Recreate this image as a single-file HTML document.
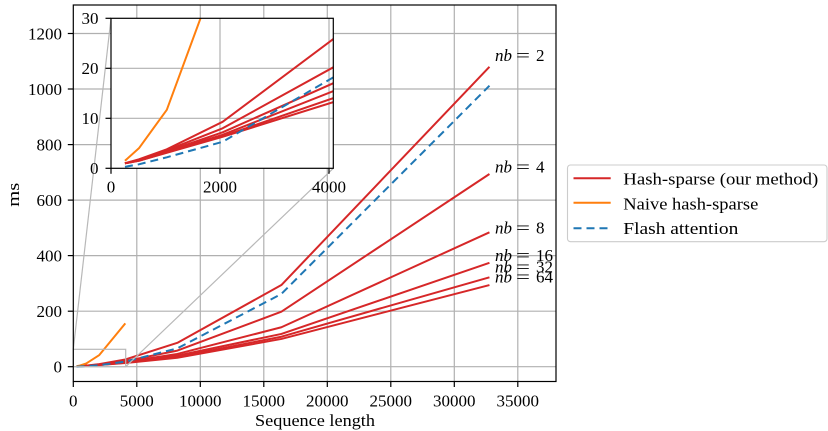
<!DOCTYPE html>
<html><head><meta charset="utf-8"><style>
html,body{margin:0;padding:0;background:#fff;}
svg{display:block;}
text{font-family:"Liberation Serif","DejaVu Serif",serif;font-size:17px;fill:#000;}
</style></head><body>
<svg width="828" height="431" viewBox="0 0 828 431" xmlns="http://www.w3.org/2000/svg">
<defs>
<clipPath id="cm"><rect x="73.3" y="5" width="482.7" height="376.5"/></clipPath>
<clipPath id="ci"><rect x="111" y="18.3" width="222.3" height="150"/></clipPath>
</defs>
<rect x="0" y="0" width="828" height="431" fill="#fff"/>
<!-- main grid -->
<g stroke="#b0b0b0" stroke-width="1.2">
<line x1="136.8" y1="5" x2="136.8" y2="381.5"/>
<line x1="200.3" y1="5" x2="200.3" y2="381.5"/>
<line x1="263.8" y1="5" x2="263.8" y2="381.5"/>
<line x1="327.3" y1="5" x2="327.3" y2="381.5"/>
<line x1="390.8" y1="5" x2="390.8" y2="381.5"/>
<line x1="454.3" y1="5" x2="454.3" y2="381.5"/>
<line x1="517.8" y1="5" x2="517.8" y2="381.5"/>
<line x1="73.3" y1="366.7" x2="556" y2="366.7"/>
<line x1="73.3" y1="311.2" x2="556" y2="311.2"/>
<line x1="73.3" y1="255.6" x2="556" y2="255.6"/>
<line x1="73.3" y1="200.1" x2="556" y2="200.1"/>
<line x1="73.3" y1="144.6" x2="556" y2="144.6"/>
<line x1="73.3" y1="89.0" x2="556" y2="89.0"/>
<line x1="73.3" y1="33.5" x2="556" y2="33.5"/>
</g>
<!-- main series -->
<g clip-path="url(#cm)" fill="none" stroke-width="2" stroke-linejoin="round">
<polyline stroke="#d62728" points="76.55,366.42 79.80,366.20 86.30,365.64 99.31,364.12 125.32,359.48 177.34,342.82 281.38,285.06 489.45,66.82"/>
<polyline stroke="#d62728" points="76.55,366.42 79.80,366.23 86.30,365.70 99.31,364.48 125.32,361.06 177.34,350.60 281.38,311.72 489.45,174.00"/>
<polyline stroke="#d62728" points="76.55,366.42 79.80,366.26 86.30,365.76 99.31,364.70 125.32,361.95 177.34,353.93 281.38,327.27 489.45,232.31"/>
<polyline stroke="#d62728" points="76.55,366.42 79.80,366.26 86.30,365.78 99.31,364.84 125.32,362.40 177.34,355.59 281.38,333.93 489.45,262.85"/>
<polyline stroke="#d62728" points="76.55,366.42 79.80,366.28 86.30,365.81 99.31,364.92 125.32,362.78 177.34,356.98 281.38,336.71 489.45,277.29"/>
<polyline stroke="#d62728" points="76.55,366.42 79.80,366.28 86.30,365.84 99.31,364.95 125.32,363.01 177.34,357.81 281.38,338.93 489.45,285.06"/>
<polyline stroke="#ff7f0e" points="76.55,366.28 79.80,365.59 86.30,363.45 99.31,355.04 125.32,323.38"/>
<polyline stroke="#1f77b4" stroke-dasharray="8,5" points="76.55,366.62 79.80,366.48 86.30,366.09 99.31,365.23 125.32,361.62 177.34,348.37 281.38,293.95 489.45,85.70"/>
</g>
<!-- inset indicator -->
<g stroke="#b8b8b8" stroke-width="1.2" fill="none">
<rect x="73.3" y="349.3" width="52.4" height="17.4"/>
<line x1="73.3" y1="349.3" x2="111" y2="18.3"/>
<line x1="125.7" y1="366.7" x2="333.3" y2="168.3"/>
</g>
<!-- main spines -->
<rect x="73.3" y="5" width="482.7" height="376.5" fill="none" stroke="#000" stroke-width="1.2"/>
<!-- main ticks -->
<g stroke="#000" stroke-width="1.2">
<line x1="73.3" y1="381.5" x2="73.3" y2="387"/>
<line x1="136.8" y1="381.5" x2="136.8" y2="387"/>
<line x1="200.3" y1="381.5" x2="200.3" y2="387"/>
<line x1="263.8" y1="381.5" x2="263.8" y2="387"/>
<line x1="327.3" y1="381.5" x2="327.3" y2="387"/>
<line x1="390.8" y1="381.5" x2="390.8" y2="387"/>
<line x1="454.3" y1="381.5" x2="454.3" y2="387"/>
<line x1="517.8" y1="381.5" x2="517.8" y2="387"/>
<line x1="67.8" y1="366.7" x2="73.3" y2="366.7"/>
<line x1="67.8" y1="311.2" x2="73.3" y2="311.2"/>
<line x1="67.8" y1="255.6" x2="73.3" y2="255.6"/>
<line x1="67.8" y1="200.1" x2="73.3" y2="200.1"/>
<line x1="67.8" y1="144.6" x2="73.3" y2="144.6"/>
<line x1="67.8" y1="89.0" x2="73.3" y2="89.0"/>
<line x1="67.8" y1="33.5" x2="73.3" y2="33.5"/>
</g>
<g text-anchor="middle">
<text x="73.3" y="406.5">0</text>
<text x="136.8" y="406.5">5000</text>
<text x="200.3" y="406.5">10000</text>
<text x="263.8" y="406.5">15000</text>
<text x="327.3" y="406.5">20000</text>
<text x="390.8" y="406.5">25000</text>
<text x="454.3" y="406.5">30000</text>
<text x="517.8" y="406.5">35000</text>
</g>
<g text-anchor="end">
<text x="62" y="372.5">0</text>
<text x="62" y="317">200</text>
<text x="62" y="261.4">400</text>
<text x="62" y="205.9">600</text>
<text x="62" y="150.4">800</text>
<text x="62" y="94.8">1000</text>
<text x="62" y="39.3">1200</text>
</g>
<text x="255" y="426" textLength="120" lengthAdjust="spacingAndGlyphs">Sequence length</text>
<text transform="translate(19,194.7) rotate(-90)" text-anchor="middle" textLength="24" lengthAdjust="spacingAndGlyphs">ms</text>
<!-- nb labels -->
<g fill="#000">
<text x="495" y="61" font-style="italic">nb</text><text x="516" y="61" textLength="14" lengthAdjust="spacingAndGlyphs">=</text><text x="536" y="61">2</text>
<text x="495" y="172.5" font-style="italic">nb</text><text x="516" y="172.5" textLength="14" lengthAdjust="spacingAndGlyphs">=</text><text x="536" y="172.5">4</text>
<text x="495" y="233.3" font-style="italic">nb</text><text x="516" y="233.3" textLength="14" lengthAdjust="spacingAndGlyphs">=</text><text x="536" y="233.3">8</text>
<text x="495" y="261" font-style="italic">nb</text><text x="516" y="261" textLength="14" lengthAdjust="spacingAndGlyphs">=</text><text x="536" y="261">16</text>
<text x="495" y="272.3" font-style="italic">nb</text><text x="516" y="272.3" textLength="14" lengthAdjust="spacingAndGlyphs">=</text><text x="536" y="272.3">32</text>
<text x="495" y="282.3" font-style="italic">nb</text><text x="516" y="282.3" textLength="14" lengthAdjust="spacingAndGlyphs">=</text><text x="536" y="282.3">64</text>
</g>
<!-- inset -->
<rect x="111" y="18.3" width="222.3" height="150" fill="#fff"/>
<g stroke="#b0b0b0" stroke-width="1.2">
<line x1="220" y1="18.3" x2="220" y2="168.3"/>
<line x1="329" y1="18.3" x2="329" y2="168.3"/>
<line x1="111" y1="118.3" x2="333.3" y2="118.3"/>
<line x1="111" y1="68.3" x2="333.3" y2="68.3"/>
</g>
<g clip-path="url(#ci)" fill="none" stroke-width="2" stroke-linejoin="round">
<polyline stroke="#d62728" points="124.95,163.3 138.9,159.3 166.81,149.3 222.62,121.8 334.23,38.3 557.46,-261.7"/>
<polyline stroke="#d62728" points="124.95,163.3 138.9,159.8 166.81,150.3 222.62,128.3 334.23,66.8 557.46,-121.7"/>
<polyline stroke="#d62728" points="124.95,163.3 138.9,160.3 166.81,151.3 222.62,132.3 334.23,82.8 557.46,-61.7"/>
<polyline stroke="#d62728" points="124.95,163.3 138.9,160.3 166.81,151.8 222.62,134.8 334.23,90.8 557.46,-31.7"/>
<polyline stroke="#d62728" points="124.95,163.3 138.9,160.8 166.81,152.3 222.62,136.3 334.23,97.8 557.46,-6.7"/>
<polyline stroke="#d62728" points="124.95,163.3 138.9,160.8 166.81,152.8 222.62,136.8 334.23,101.8 557.46,8.3"/>
<polyline stroke="#ff7f0e" points="124.95,160.8 138.9,148.3 166.81,109.8 222.62,-41.7 334.23,-611.7"/>
<polyline stroke="#1f77b4" stroke-dasharray="8,5" points="124.95,166.8 138.9,164.3 166.81,157.3 222.62,141.8 334.23,76.8 557.46,-161.7"/>
</g>
<rect x="111" y="18.3" width="222.3" height="150" fill="none" stroke="#000" stroke-width="1.2"/>
<g stroke="#000" stroke-width="1.2">
<line x1="111" y1="168.3" x2="111" y2="173.8"/>
<line x1="220" y1="168.3" x2="220" y2="173.8"/>
<line x1="329" y1="168.3" x2="329" y2="173.8"/>
<line x1="105.5" y1="168.3" x2="111" y2="168.3"/>
<line x1="105.5" y1="118.3" x2="111" y2="118.3"/>
<line x1="105.5" y1="68.3" x2="111" y2="68.3"/>
<line x1="105.5" y1="18.3" x2="111" y2="18.3"/>
</g>
<g text-anchor="middle">
<text x="111" y="192.5">0</text>
<text x="220" y="192.5">2000</text>
<text x="329" y="192.5">4000</text>
</g>
<g text-anchor="end">
<text x="98.5" y="174.1">0</text>
<text x="98.5" y="124.1">10</text>
<text x="98.5" y="74.1">20</text>
<text x="98.5" y="24.1">30</text>
</g>
<!-- legend -->
<rect x="567.5" y="165" width="259.5" height="76.7" rx="3" ry="3" fill="#fff" fill-opacity="0.8" stroke="#cccccc" stroke-width="1.1"/>
<line x1="573.5" y1="178.3" x2="610.7" y2="178.3" stroke="#d62728" stroke-width="2"/>
<line x1="573.5" y1="202.7" x2="610.7" y2="202.7" stroke="#ff7f0e" stroke-width="2"/>
<line x1="573.5" y1="228.3" x2="610.7" y2="228.3" stroke="#1f77b4" stroke-width="2" stroke-dasharray="8,5"/>
<text x="623.3" y="184.7" textLength="195" lengthAdjust="spacingAndGlyphs">Hash-sparse (our method)</text>
<text x="623.3" y="209.4" textLength="135" lengthAdjust="spacingAndGlyphs">Naive hash-sparse</text>
<text x="623.3" y="234.1" textLength="115" lengthAdjust="spacingAndGlyphs">Flash attention</text>
</svg>
</body></html>
